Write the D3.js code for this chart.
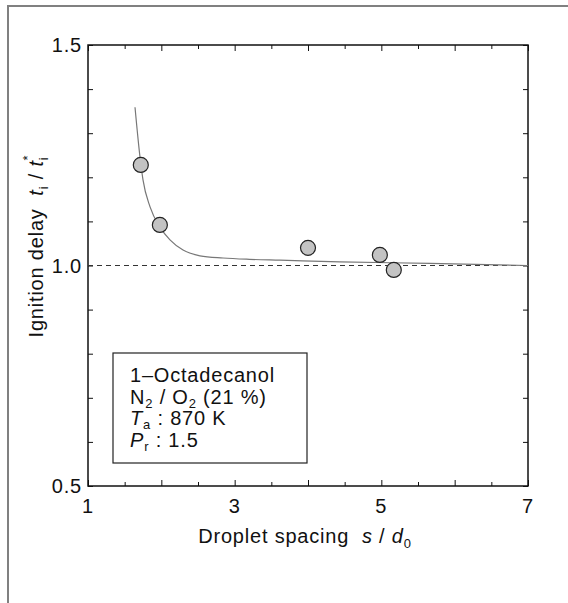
<!DOCTYPE html>
<html><head><meta charset="utf-8">
<script src="https://cdn.jsdelivr.net/npm/d3@7"></script>
<style>body{margin:0;background:#fff}svg{display:block}text{font-family:"Liberation Sans",Arial,sans-serif;fill:#111;letter-spacing:0.8px}</style>
</head><body>
<script>
const xTickLabels=[1,3,5,7];
const yTickLabels=[0.5,1.0,1.5];
const pointX=[1.72,1.98,4.0,4.98,5.17];
const pointY=[1.228,1.092,1.040,1.024,0.990];
const curveX=[1.641,1.709,1.75,1.846,1.982,2.118,2.296,2.527,2.841,3.2,3.618,4.436,5.664,7.0];
const curveY=[1.359,1.246,1.194,1.133,1.087,1.058,1.035,1.022,1.017,1.014,1.012,1.008,1.005,1.000];
const legendLines=["1–Octadecanol","N2 / O2 (21 %)","Ta : 870 K","Pr : 1.5"];

const W=568,H=603;
const svg=d3.select("body").append("svg").attr("width",W).attr("height",H);
const L=88,R=528,T=45,B=486;
const x=d3.scaleLinear().domain([1,7]).range([L,R]);
const y=d3.scaleLinear().domain([0.5,1.5]).range([B,T]);

// outer frame
svg.append("path").attr("d",`M8,${H} V6 H${W}`).attr("fill","none").attr("stroke","#808080").attr("stroke-width",2);

// ticks
const g=svg.append("g");
const xt=d3.range(1,7.01,0.5);
const yt=d3.range(0.5,1.501,0.1);
g.append("g").attr("transform",`translate(0,${B})`).call(d3.axisBottom(x).tickValues(xt).tickSize(0).tickFormat(""))
 .call(s=>s.select(".domain").remove())
 .selectAll(".tick line").attr("y2",d=>Math.abs(d-Math.round(d))<1e-6?-6:-4).attr("stroke","#111");
g.append("g").attr("transform",`translate(0,${T})`).call(d3.axisTop(x).tickValues(xt).tickSize(0).tickFormat(""))
 .call(s=>s.select(".domain").remove())
 .selectAll(".tick line").attr("y2",d=>Math.abs(d-Math.round(d))<1e-6?6:4).attr("stroke","#111");
g.append("g").attr("transform",`translate(${L},0)`).call(d3.axisLeft(y).tickValues(yt).tickSize(0).tickFormat(""))
 .call(s=>s.select(".domain").remove())
 .selectAll(".tick line").attr("x2",5).attr("stroke","#111");
g.append("g").attr("transform",`translate(${R},0)`).call(d3.axisRight(y).tickValues(yt).tickSize(0).tickFormat(""))
 .call(s=>s.select(".domain").remove())
 .selectAll(".tick line").attr("x2",-5).attr("stroke","#111");

// frame
svg.append("rect").attr("x",L).attr("y",T).attr("width",R-L).attr("height",B-T).attr("fill","none").attr("stroke","#111").attr("stroke-width",1.5);

// tick labels
svg.selectAll(".xl").data(xTickLabels).join("text").attr("x",d=>x(d)).attr("y",B+27).attr("text-anchor","middle").attr("font-size",20).text(d=>d);
svg.selectAll(".yl").data(yTickLabels).join("text").attr("x",L-6).attr("y",d=>y(d)+7).attr("text-anchor","end").attr("font-size",20).text(d=>d.toFixed(1));

// dashed line at 1.0
svg.append("line").attr("x1",x(1)).attr("x2",x(7)).attr("y1",y(1)).attr("y2",y(1)).attr("stroke","#333").attr("stroke-width",1.2).attr("stroke-dasharray","5,4");

// curve
const line=d3.line().x(d=>x(d[0])).y(d=>y(d[1])).curve(d3.curveMonotoneX);
svg.append("path").attr("d",line(curveX.map((v,i)=>[v,curveY[i]]))).attr("fill","none").attr("stroke","#777").attr("stroke-width",1.2);

// points
svg.selectAll(".pt").data(pointX.map((v,i)=>[v,pointY[i]])).join("circle")
 .attr("cx",d=>x(d[0])).attr("cy",d=>y(d[1])).attr("r",7.5).attr("fill","#c3c3c3").attr("stroke","#222").attr("stroke-width",1.2);

// legend box
svg.append("rect").attr("x",113).attr("y",353).attr("width",194).attr("height",110).attr("fill","#fff").attr("stroke","#222").attr("stroke-width",1.2);
const lx=130, fs=20, ss=13;
svg.append("text").attr("x",lx).attr("y",382).attr("font-size",fs).text(legendLines[0]);
const t2=svg.append("text").attr("x",lx).attr("y",404).attr("font-size",fs);
t2.append("tspan").text("N");
t2.append("tspan").attr("font-size",ss).attr("dy",4).text("2");
t2.append("tspan").attr("dy",-4).text(" / O");
t2.append("tspan").attr("font-size",ss).attr("dy",4).text("2");
t2.append("tspan").attr("dy",-4).text(" (21 %)");
const t3=svg.append("text").attr("x",lx).attr("y",425).attr("font-size",fs);
t3.append("tspan").attr("font-style","italic").text("T");
t3.append("tspan").attr("font-size",ss).attr("dy",4).text("a");
t3.append("tspan").attr("dy",-4).text(" : 870 K");
const t4=svg.append("text").attr("x",lx).attr("y",447).attr("font-size",fs);
t4.append("tspan").attr("font-style","italic").text("P");
t4.append("tspan").attr("font-size",ss).attr("dy",4).text("r");
t4.append("tspan").attr("dy",-4).text(" : 1.5");

// x axis title
const xtit=svg.append("text").attr("x",305).attr("y",543).attr("text-anchor","middle").attr("font-size",20);
xtit.append("tspan").text("Droplet spacing\u00a0\u00a0");
xtit.append("tspan").attr("font-style","italic").text("s");
xtit.append("tspan").text(" / ");
xtit.append("tspan").attr("font-style","italic").text("d");
xtit.append("tspan").attr("font-size",13).attr("dy",5).text("0");

// y axis title
const ytit=svg.append("text").attr("transform",`translate(43,246) rotate(-90)`).attr("text-anchor","middle").attr("font-size",20);
ytit.append("tspan").text("Ignition delay\u00a0\u00a0");
ytit.append("tspan").attr("font-style","italic").text("t");
ytit.append("tspan").attr("font-size",13).attr("dy",5).text("i");
ytit.append("tspan").attr("dy",-5).text(" / ");
ytit.append("tspan").attr("font-style","italic").text("t");
ytit.append("tspan").attr("font-size",13).attr("dy",5).text("i");
ytit.append("tspan").attr("font-size",13).attr("dx",-4).attr("dy",-16).text("*");
</script>
</body></html>
